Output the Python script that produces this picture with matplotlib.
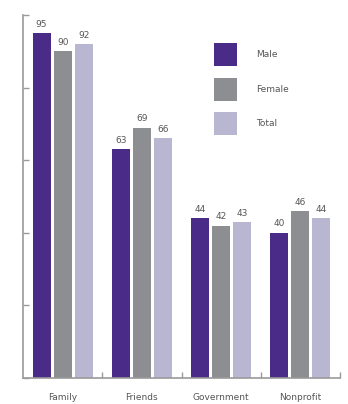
import matplotlib
matplotlib.use("Agg")
import matplotlib.pyplot as plt
import numpy as np

categories = ["Family", "Friends", "Government", "Nonprofit"]
series_names = ["Male", "Female", "Total"]
male = [95, 63, 44, 40]
female = [90, 69, 42, 46]
total = [92, 66, 43, 44]
y_ticks = [0, 20, 40, 60, 80, 100]

colors = ["#4a2b88", "#8d8e91", "#b9b6d1"]
text_color = "#555555"
axis_color = "#9a9a9a"

fig = plt.figure(figsize=(3.48, 4.04), dpi=100)
ax = fig.add_axes([23/348, 26/404, (340-23)/348, (378-15)/404])

x = np.arange(len(categories))
width = 0.228
step = 0.265
for i, (vals, name, c) in enumerate(zip([male, female, total], series_names, colors)):
    pos = x + (i - 1) * step
    ax.bar(pos, vals, width=width, color=c, label=name)
    for xp, v in zip(pos, vals):
        ax.text(xp, v + 1.2, str(v), ha="center", va="bottom", fontsize=6.5, color=text_color)

ax.set_xlim(-0.5, 3.5)
ax.set_ylim(0, 100)
ax.set_yticks(y_ticks)
ax.set_yticklabels([])
ax.tick_params(axis="y", direction="in", length=4, color=axis_color, width=1)

ax.set_xticks(x)
ax.set_xticklabels(categories, fontsize=6.5, color=text_color)
ax.tick_params(axis="x", length=0, pad=11)
ax.set_xticks([0.5, 1.5, 2.5, 3.5], minor=True)
ax.tick_params(axis="x", which="minor", direction="in", length=4, color=axis_color, width=1)

for s in ["top", "right"]:
    ax.spines[s].set_visible(False)
for s in ["left", "bottom"]:
    ax.spines[s].set_color(axis_color)
    ax.spines[s].set_linewidth(1.2)

leg = ax.legend(loc="upper left", bbox_to_anchor=(0.603, 0.922), frameon=False,
                fontsize=6.5, handlelength=2.5, handleheight=3.5, borderpad=0,
                borderaxespad=0, labelspacing=1.3, handletextpad=2.1,
                labelcolor=text_color)

fig.savefig("out.png", dpi=100)
